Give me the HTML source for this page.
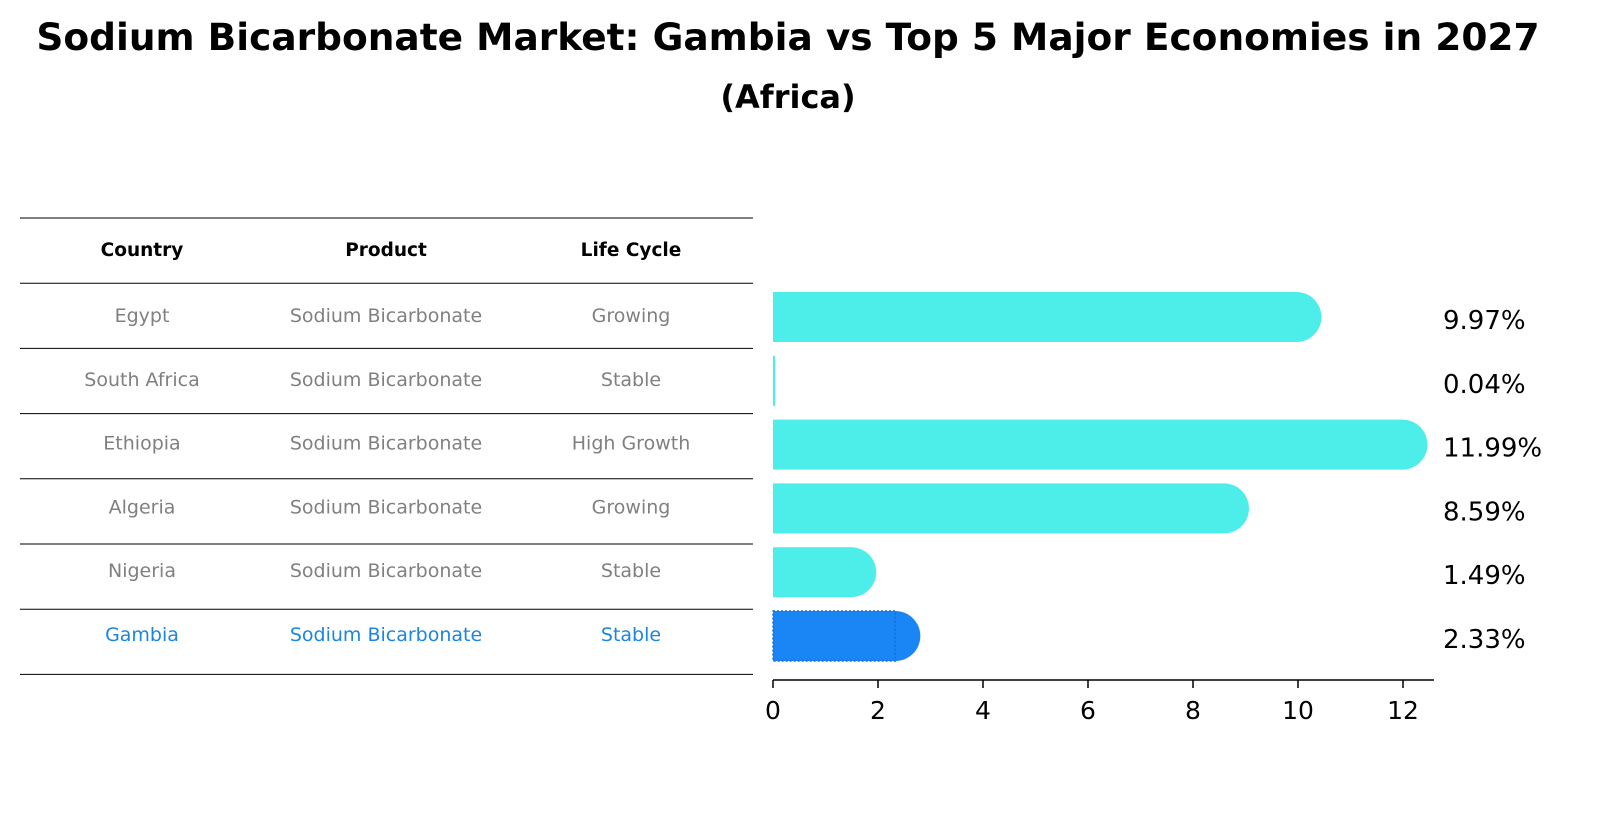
<!DOCTYPE html>
<html><head><meta charset="utf-8"><style>
body{margin:0;background:#fff;font-family:"Liberation Sans","DejaVu Sans",sans-serif}
</style></head><body>
<svg width="1606" height="823" xmlns="http://www.w3.org/2000/svg" font-family="DejaVu Sans, Liberation Sans, sans-serif">
<text x="788" y="50" text-anchor="middle" font-size="37.5" font-weight="bold">Sodium Bicarbonate Market: Gambia vs Top 5 Major Economies in 2027</text>
<text x="788" y="108" text-anchor="middle" font-size="32" font-weight="bold">(Africa)</text>
<g id="table"></g>
<g id="bars"></g>
<g id="axis"></g>
</svg>
<script>
const countries=["Egypt","South Africa","Ethiopia","Algeria","Nigeria","Gambia"];
const products=["Sodium Bicarbonate","Sodium Bicarbonate","Sodium Bicarbonate","Sodium Bicarbonate","Sodium Bicarbonate","Sodium Bicarbonate"];
const lifecycles=["Growing","Stable","High Growth","Growing","Stable","Stable"];
const values=[9.97,0.04,11.99,8.59,1.49,2.33];
const ticks=[0,2,4,6,8,10,12];
const NS="http://www.w3.org/2000/svg";
function mk(t,a,p){const e=document.createElementNS(NS,t);for(const k in a)e.setAttribute(k,a[k]);p.appendChild(e);return e;}
const x=v=>773+v*52.5;
const rowY=i=>317+i*63.8;
const tbl=document.getElementById('table');
const cols=[142,386,631];
const hdr=["Country","Product","Life Cycle"];
hdr.forEach((h,j)=>{const t=mk('text',{x:cols[j],y:256,'text-anchor':'middle','font-size':18.5,'font-weight':'bold'},tbl);t.textContent=h;

});
for(let i=0;i<=countries.length+1;i++){const y=218+i*65.2;const l=mk('line',{x1:20,x2:753,y1:y,y2:y,stroke:'#000','stroke-width':1},tbl);

}
countries.forEach((c,i)=>{const col=c==="Gambia"?'#1a86e0':'#808080';
[c,products[i],lifecycles[i]].forEach((s,j)=>{const t=mk('text',{x:cols[j],y:rowY(i)+5,'text-anchor':'middle','font-size':19,fill:col},tbl);t.textContent=s;

});});
const bars=document.getElementById('bars');
values.forEach((v,i)=>{const g=countries[i]==="Gambia";const fill=g?'#1a86f5':'#4deeea';const cy=rowY(i);const h=50;
const r=mk('rect',{x:x(0),y:cy-h/2,width:Math.max(x(v)-x(0),1.5),height:h,fill:fill},bars);


if(v>0.5){const c=mk('circle',{cx:x(v),cy:cy,r:h/2,fill:fill},bars);

}
if(g){const o=mk('rect',{x:x(0),y:cy-h/2,width:x(v)-x(0),height:h,fill:'none',stroke:'#1570d0','stroke-width':1.5,'stroke-dasharray':'2,2'},bars);

}
const t=mk('text',{x:1443,y:cy+12,'font-size':26},bars);t.textContent=v.toFixed(2)+'%';

});
const ax=document.getElementById('axis');
mk('line',{x1:773,x2:1434,y1:680,y2:680,stroke:'#000','stroke-width':1.5},ax);
ticks.forEach(tv=>{mk('line',{x1:x(tv),x2:x(tv),y1:680,y2:688,stroke:'#000','stroke-width':1.5},ax);
const t=mk('text',{x:x(tv),y:719,'text-anchor':'middle','font-size':25},ax);t.textContent=tv;

});
</script>
</body></html>
